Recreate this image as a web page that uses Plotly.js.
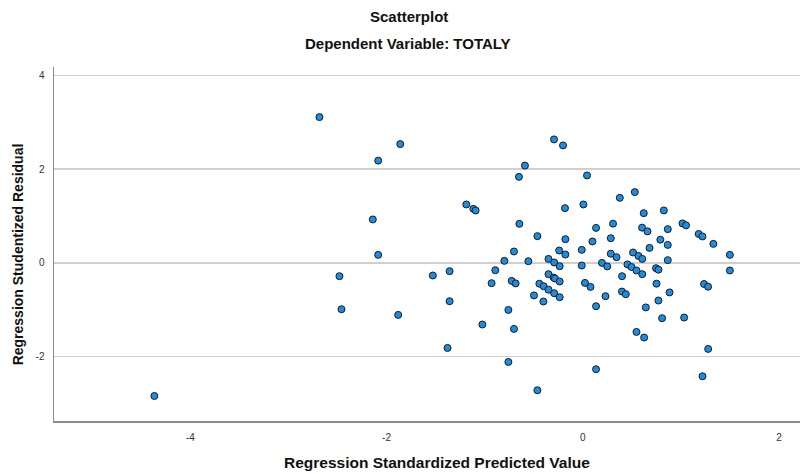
<!DOCTYPE html>
<html>
<head>
<meta charset="utf-8">
<script src="https://cdn.plot.ly/plotly-3.0.1.min.js"></script>
<style>html,body{margin:0;padding:0;background:#fff;}#chart{width:804px;height:474px;}</style>
</head>
<body>
<div id="chart"></div>
<script>
// Regression Standardized Predicted Value
const predicted = [
 -4.367, -2.684, -2.480, -2.459, -2.140, -2.085, -2.085, -1.881, -1.860, -1.528,
 -1.378, -1.357, -1.357, -1.187, -1.115, -1.092, -1.023, -0.929, -0.891, -0.799,
 -0.758, -0.758, -0.724, -0.701, -0.701, -0.684, -0.650, -0.646, -0.589, -0.554,
 -0.497, -0.462, -0.462, -0.442, -0.401, -0.398, -0.349, -0.349, -0.349, -0.293,
 -0.291, -0.296, -0.283, -0.291, -0.235, -0.235, -0.235, -0.240, -0.201, -0.181,
 -0.177, -0.177, -0.010, -0.010, 0.007, 0.023, 0.044, 0.079, 0.099, 0.136,
 0.136, 0.136, 0.196, 0.232, 0.250, 0.286, 0.286, 0.309, 0.344, 0.378,
 0.401, 0.400, 0.439, 0.456, 0.498, 0.513, 0.531, 0.548, 0.548, 0.568,
 0.605, 0.607, 0.607, 0.622, 0.626, 0.643, 0.660, 0.681, 0.747, 0.772,
 0.752, 0.772, 0.791, 0.809, 0.827, 0.867, 0.867, 0.867, 0.885, 1.017,
 1.034, 1.053, 1.182, 1.221, 1.221, 1.237, 1.278, 1.279, 1.332, 1.500,
 1.500
];
// Regression Studentized Residual
const residual = [
 -2.840, 3.111, -0.284, -0.989, 0.927, 2.182, 0.171, -1.110, 2.535, -0.269,
 -1.815, -0.177, -0.818, 1.247, 1.153, 1.119, -1.315, -0.433, -0.156, 0.043,
 -1.004, -2.114, -0.384, 0.243, -1.409, -0.438, 1.836, 0.833, 2.076, 0.036,
 -0.694, 0.570, -2.718, -0.444, -0.824, -0.498, 0.085, -0.241, -0.572, 2.635,
 0.009, -0.312, -0.333, -0.647, -0.070, -0.397, -0.732, 0.265, 2.507, 1.168,
 0.506, 0.179, 0.278, -0.056, 1.247, -0.427, 1.866, -0.512, 0.457, 0.747,
 -0.925, -2.270, 0.000, -0.711, -0.075, 0.527, 0.196, 0.837, 0.122, 1.388,
 -0.284, -0.611, -0.668, -0.032, -0.088, 0.222, 1.510, -0.162, -1.473, 0.149,
 0.752, 0.085, -0.241, 1.061, -1.593, -0.950, 0.673, 0.320, -0.113, -0.145,
 -0.444, -0.803, 0.495, -1.181, 1.119, 0.720, 0.384, 0.058, -0.630, 0.843,
 -1.166, 0.801, 0.617, 0.564, -2.419, -0.451, -0.508, -1.836, 0.406, 0.171,
 -0.162
];
const xTicks = [-4, -2, 0, 2];
const yTicks = [-2, 0, 2, 4];

const FONT = '"Liberation Sans", Arial, sans-serif';

const trace = {
  type: 'scatter',
  mode: 'markers',
  x: predicted,
  y: residual,
  marker: {
    size: 7,
    color: '#1b8de3',
    line: {color: '#1b1b1b', width: 1}
  },
  hoverinfo: 'x+y'
};

const layout = {
  width: 804,
  height: 474,
  margin: {l: 54, r: 4, t: 67, b: 53},
  paper_bgcolor: '#ffffff',
  plot_bgcolor: '#ffffff',
  showlegend: false,
  font: {family: FONT, color: '#222'},
  xaxis: {
    range: [-5.39, 2.215],
    tickvals: xTicks,
    ticktext: xTicks.map(String),
    showgrid: false,
    zeroline: false,
    showline: true,
    linecolor: '#8c8c8c',
    linewidth: 1.5,
    ticks: '',
    tickfont: {family: FONT, size: 10, color: '#333'},
    ticklabelstandoff: 6
  },
  yaxis: {
    range: [-3.374, 4.18],
    tickvals: yTicks,
    ticktext: yTicks.map(String),
    showgrid: true,
    gridcolor: '#cfcfcf',
    gridwidth: 1.5,
    zeroline: false,
    showline: true,
    linecolor: '#8c8c8c',
    linewidth: 1.5,
    ticks: '',
    tickfont: {family: FONT, size: 10, color: '#333'},
    ticklabelstandoff: 6
  },
  annotations: [
    {text: '<b>Scatterplot</b>', xref: 'paper', yref: 'paper', x: 0.476, y: 1.144,
     xanchor: 'center', yanchor: 'middle', showarrow: false,
     font: {family: FONT, size: 15, color: '#111'}},
    {text: '<b>Dependent Variable: TOTALY</b>', xref: 'paper', yref: 'paper', x: 0.474, y: 1.065,
     xanchor: 'center', yanchor: 'middle', showarrow: false,
     font: {family: FONT, size: 15, color: '#111'}},
    {text: '<b>Regression Standardized Predicted Value</b>', xref: 'paper', yref: 'paper', x: 0.513, y: -0.117,
     xanchor: 'center', yanchor: 'middle', showarrow: false,
     font: {family: FONT, size: 15.5, color: '#111'}},
    {text: '<b>Regression Studentized Residual</b>', xref: 'paper', yref: 'paper', x: -0.049, y: 0.472,
     xanchor: 'center', yanchor: 'middle', showarrow: false, textangle: -90,
     font: {family: FONT, size: 14, color: '#111'}}
  ]
};

Plotly.newPlot('chart', [trace], layout, {displayModeBar: false, staticPlot: true});
</script>
</body>
</html>
